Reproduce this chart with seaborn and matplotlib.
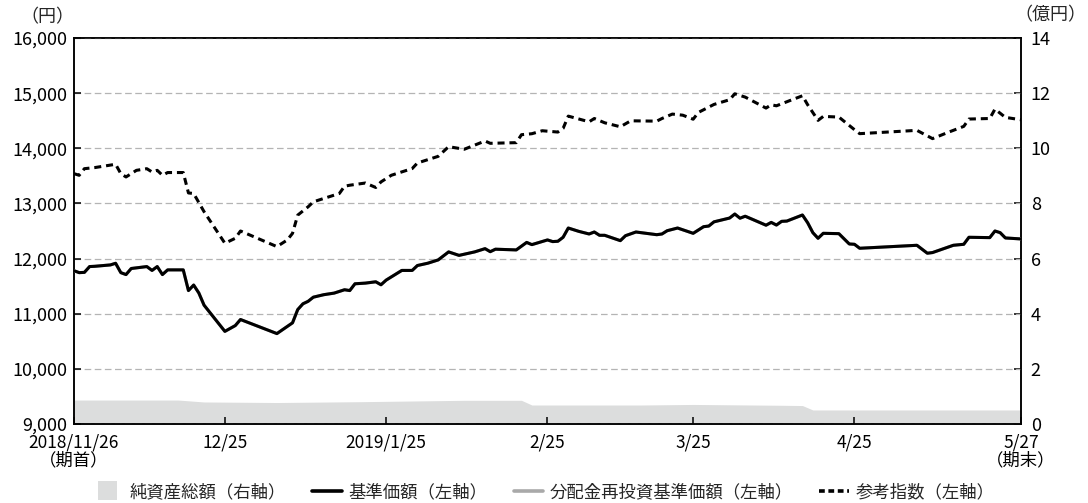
import pandas as pd
import numpy as np
import matplotlib
matplotlib.use("Agg")
import matplotlib.pyplot as plt
import matplotlib.patches as mpatches
from matplotlib.lines import Line2D
from matplotlib.legend_handler import HandlerPatch
from matplotlib.ticker import FuncFormatter, FixedLocator
import seaborn as sns

# 基準価額 (円)
nav_dates = [
    "2018-11-26", "2018-11-27", "2018-11-28", "2018-11-29", "2018-11-30", "2018-12-03",
    "2018-12-04", "2018-12-05", "2018-12-06", "2018-12-07", "2018-12-10", "2018-12-11",
    "2018-12-12", "2018-12-13", "2018-12-14", "2018-12-17", "2018-12-18", "2018-12-19",
    "2018-12-20", "2018-12-21", "2018-12-25", "2018-12-27", "2018-12-28", "2019-01-04",
    "2019-01-07", "2019-01-08", "2019-01-09", "2019-01-10", "2019-01-11", "2019-01-13",
    "2019-01-15", "2019-01-17", "2019-01-18", "2019-01-19", "2019-01-21", "2019-01-23",
    "2019-01-24", "2019-01-25", "2019-01-28", "2019-01-30", "2019-01-31", "2019-02-02",
    "2019-02-04", "2019-02-06", "2019-02-08", "2019-02-11", "2019-02-13", "2019-02-14",
    "2019-02-15", "2019-02-19", "2019-02-21", "2019-02-22", "2019-02-25", "2019-02-26",
    "2019-02-27", "2019-02-28", "2019-03-01", "2019-03-03", "2019-03-05", "2019-03-06",
    "2019-03-07", "2019-03-08", "2019-03-11", "2019-03-12", "2019-03-14", "2019-03-18",
    "2019-03-19", "2019-03-20", "2019-03-22", "2019-03-25", "2019-03-27", "2019-03-28",
    "2019-03-29", "2019-04-01", "2019-04-02", "2019-04-03", "2019-04-04", "2019-04-08",
    "2019-04-09", "2019-04-10", "2019-04-11", "2019-04-12", "2019-04-15", "2019-04-16",
    "2019-04-17", "2019-04-18", "2019-04-19", "2019-04-22", "2019-04-24", "2019-04-25",
    "2019-04-26", "2019-05-07", "2019-05-09", "2019-05-10", "2019-05-14", "2019-05-16",
    "2019-05-17", "2019-05-21", "2019-05-22", "2019-05-23", "2019-05-24", "2019-05-27",
]
nav = [
    11780, 11745, 11750, 11855, 11860, 11885,
    11915, 11745, 11710, 11820, 11855, 11785,
    11855, 11710, 11795, 11795, 11420, 11520,
    11375, 11155, 10680, 10785, 10895, 10640,
    10835, 11075, 11180, 11225, 11300, 11345,
    11374, 11435, 11420, 11543, 11555, 11579,
    11525, 11610, 11785, 11785, 11874, 11916,
    11976, 12121, 12058, 12121, 12180, 12125,
    12170, 12157, 12293, 12253, 12338, 12308,
    12314, 12386, 12554, 12494, 12446, 12482,
    12422, 12422, 12325, 12415, 12482, 12433,
    12446, 12505, 12554, 12458, 12578, 12590,
    12666, 12735, 12808, 12732, 12768, 12605,
    12656, 12608, 12675, 12680, 12790, 12650,
    12470, 12368, 12458, 12452, 12265, 12259,
    12187, 12241, 12097, 12109, 12241, 12259,
    12386, 12380, 12500, 12470, 12374, 12356,
]
# 分配金再投資基準価額 (円): no distributions in the period, so it equals 基準価額
reinvested = list(nav)

# 参考指数 (円)
index_dates = [
    "2018-11-26", "2018-11-27", "2018-11-28", "2018-11-30", "2018-12-02", "2018-12-04",
    "2018-12-05", "2018-12-06", "2018-12-08", "2018-12-10", "2018-12-11", "2018-12-12",
    "2018-12-13", "2018-12-14", "2018-12-17", "2018-12-18", "2018-12-19", "2018-12-21",
    "2018-12-25", "2018-12-27", "2018-12-28", "2019-01-04", "2019-01-06", "2019-01-07",
    "2019-01-08", "2019-01-10", "2019-01-11", "2019-01-13", "2019-01-15", "2019-01-16",
    "2019-01-17", "2019-01-18", "2019-01-21", "2019-01-23", "2019-01-24", "2019-01-26",
    "2019-01-30", "2019-01-31", "2019-02-04", "2019-02-06", "2019-02-09", "2019-02-13",
    "2019-02-14", "2019-02-19", "2019-02-20", "2019-02-22", "2019-02-24", "2019-02-27",
    "2019-02-28", "2019-03-01", "2019-03-05", "2019-03-06", "2019-03-08", "2019-03-11",
    "2019-03-13", "2019-03-18", "2019-03-19", "2019-03-21", "2019-03-23", "2019-03-25",
    "2019-03-26", "2019-03-29", "2019-04-01", "2019-04-02", "2019-04-04", "2019-04-08",
    "2019-04-09", "2019-04-10", "2019-04-13", "2019-04-15", "2019-04-16", "2019-04-18",
    "2019-04-19", "2019-04-22", "2019-04-25", "2019-04-26", "2019-05-07", "2019-05-10",
    "2019-05-13", "2019-05-16", "2019-05-17", "2019-05-21", "2019-05-22", "2019-05-24",
    "2019-05-27",
]
index_values = [
    13540, 13510, 13630, 13650, 13680, 13710,
    13540, 13480, 13600, 13630, 13570, 13600,
    13510, 13560, 13560, 13190, 13180, 12850,
    12278, 12368, 12500, 12217, 12338, 12458,
    12788, 12939, 13029, 13090, 13150, 13180,
    13312, 13330, 13370, 13289, 13390, 13511,
    13632, 13733, 13854, 14029, 13982, 14132,
    14090, 14102, 14246, 14264, 14318, 14294,
    14360, 14583, 14480, 14540, 14462, 14390,
    14498, 14492, 14540, 14620, 14600, 14527,
    14650, 14795, 14880, 14988, 14928, 14729,
    14789, 14770, 14880, 14952, 14789, 14506,
    14578, 14566, 14337, 14265, 14325, 14175,
    14289, 14397, 14530, 14540, 14710, 14560,
    14517,
]

# 純資産総額 (億円)
assets_dates = [
    "2018-11-26", "2018-12-16", "2018-12-21", "2019-01-04", "2019-01-20", "2019-02-09",
    "2019-02-20", "2019-02-22", "2019-03-15", "2019-03-25", "2019-04-11", "2019-04-15",
    "2019-04-17", "2019-05-27",
]
assets = [0.87, 0.87, 0.80, 0.78, 0.81, 0.86, 0.86, 0.69, 0.69, 0.71, 0.68, 0.67, 0.51, 0.51]

tick_dates = ["2018-11-26", "2018-12-25", "2019-01-25", "2019-02-25",
              "2019-03-25", "2019-04-25", "2019-05-27"]
tick_labels = ["2018/11/26\n（期首）", "12/25", "2019/1/25", "2/25",
               "3/25", "4/25", "5/27\n（期末）"]

legend_labels = ["純資産総額（右軸）", "基準価額（左軸）",
                 "分配金再投資基準価額（左軸）", "参考指数（左軸）"]

sns.set_style("ticks")
plt.rcParams["font.family"] = ["Noto Sans CJK JP", "DejaVu Sans"]
plt.rcParams["axes.unicode_minus"] = False

AREA = "#dcdddd"
GREY_LINE = "#a9a9a9"
DASH = (0, (2.3, 1.6))

nav_df = pd.DataFrame({"date": pd.to_datetime(nav_dates), "nav": nav, "reinvested": reinvested})
idx_df = pd.DataFrame({"date": pd.to_datetime(index_dates), "value": index_values})
ast_df = pd.DataFrame({"date": pd.to_datetime(assets_dates), "assets": assets})

fig = plt.figure(figsize=(10.88, 5.03), dpi=100)
ax = fig.add_axes([0.068, 0.157, 0.8704, 0.7675])
ax2 = ax.twinx()

# net assets area on the right axis, kept behind the price lines
ax2.fill_between(ast_df["date"], 0, ast_df["assets"], color=AREA, lw=0, zorder=1)
ax2.set_ylim(0, 14)
ax2.yaxis.set_major_locator(FixedLocator(np.arange(0, 15, 2)))
ax.set_zorder(ax2.get_zorder() + 1)
ax.patch.set_visible(False)

sns.lineplot(data=nav_df, x="date", y="reinvested", ax=ax, color=GREY_LINE, lw=2.2, zorder=3)
sns.lineplot(data=nav_df, x="date", y="nav", ax=ax, color="black", lw=2.2, zorder=4)
sns.lineplot(data=idx_df, x="date", y="value", ax=ax, color="black", lw=2.2,
             linestyle=DASH, zorder=4)

ax.set_xlim(pd.Timestamp(tick_dates[0]), pd.Timestamp(tick_dates[-1]))
ax.set_ylim(9000, 16000)
ax.yaxis.set_major_locator(FixedLocator(np.arange(9000, 16001, 1000)))
ax.yaxis.set_major_formatter(FuncFormatter(lambda v, p: f"{int(v):,}"))
ax.set_xticks(pd.to_datetime(tick_dates))
ax.set_xticklabels(tick_labels)
for t in ax.get_xticklabels():
    t.set_linespacing(1.0)
ax.set_xlabel("")
ax.set_ylabel("")
ax2.set_ylabel("")

ax.set_axisbelow(True)
ax.yaxis.grid(True, color="#b4b4b4", lw=0.9, linestyle=(0, (5.3, 2.8)))
ax.xaxis.grid(False)

for a in (ax, ax2):
    for s in a.spines.values():
        s.set_visible(True)
        s.set_color("black")
        s.set_linewidth(1.1)
ax.tick_params(axis="both", which="major", direction="in", length=5, width=1.1,
               color="black", labelsize=13, labelcolor="black")
ax.tick_params(axis="y", pad=5)
ax.tick_params(axis="x", pad=7, labelsize=12.5)
ax.tick_params(right=False, top=False)
ax2.tick_params(axis="y", direction="in", length=5, width=1.1, color="black",
                labelsize=13, labelcolor="black", pad=7)

# axis unit captions
ax.text(-0.028, 1.03, "（円）", transform=ax.transAxes, ha="center", va="bottom", fontsize=13)
fig.text(0.9985, 1 - 24 / 503, "（億円）", ha="right", va="bottom", fontsize=13)


def square_patch(legend, orig_handle, xdescent, ydescent, width, height, fontsize):
    side = 1.1 * fontsize
    return mpatches.Rectangle((width - side - xdescent - 4, height / 2 - side / 2 - ydescent),
                              side, side)


handles = [
    mpatches.Patch(facecolor=AREA, edgecolor="none"),
    Line2D([], [], color="black", lw=2.6),
    Line2D([], [], color=GREY_LINE, lw=2.6),
    Line2D([], [], color="black", lw=2.6, linestyle=(0, (1.6, 1.0))),
]
fig.legend(handles, legend_labels, loc="center", bbox_to_anchor=(0.5, 0.022), ncol=4,
           frameon=False, fontsize=12.5, handlelength=1.7, handletextpad=0.4,
           columnspacing=1.5, borderpad=0, borderaxespad=0,
           handler_map={mpatches.Patch: HandlerPatch(patch_func=square_patch)})

fig.savefig("out.png", dpi=100)
